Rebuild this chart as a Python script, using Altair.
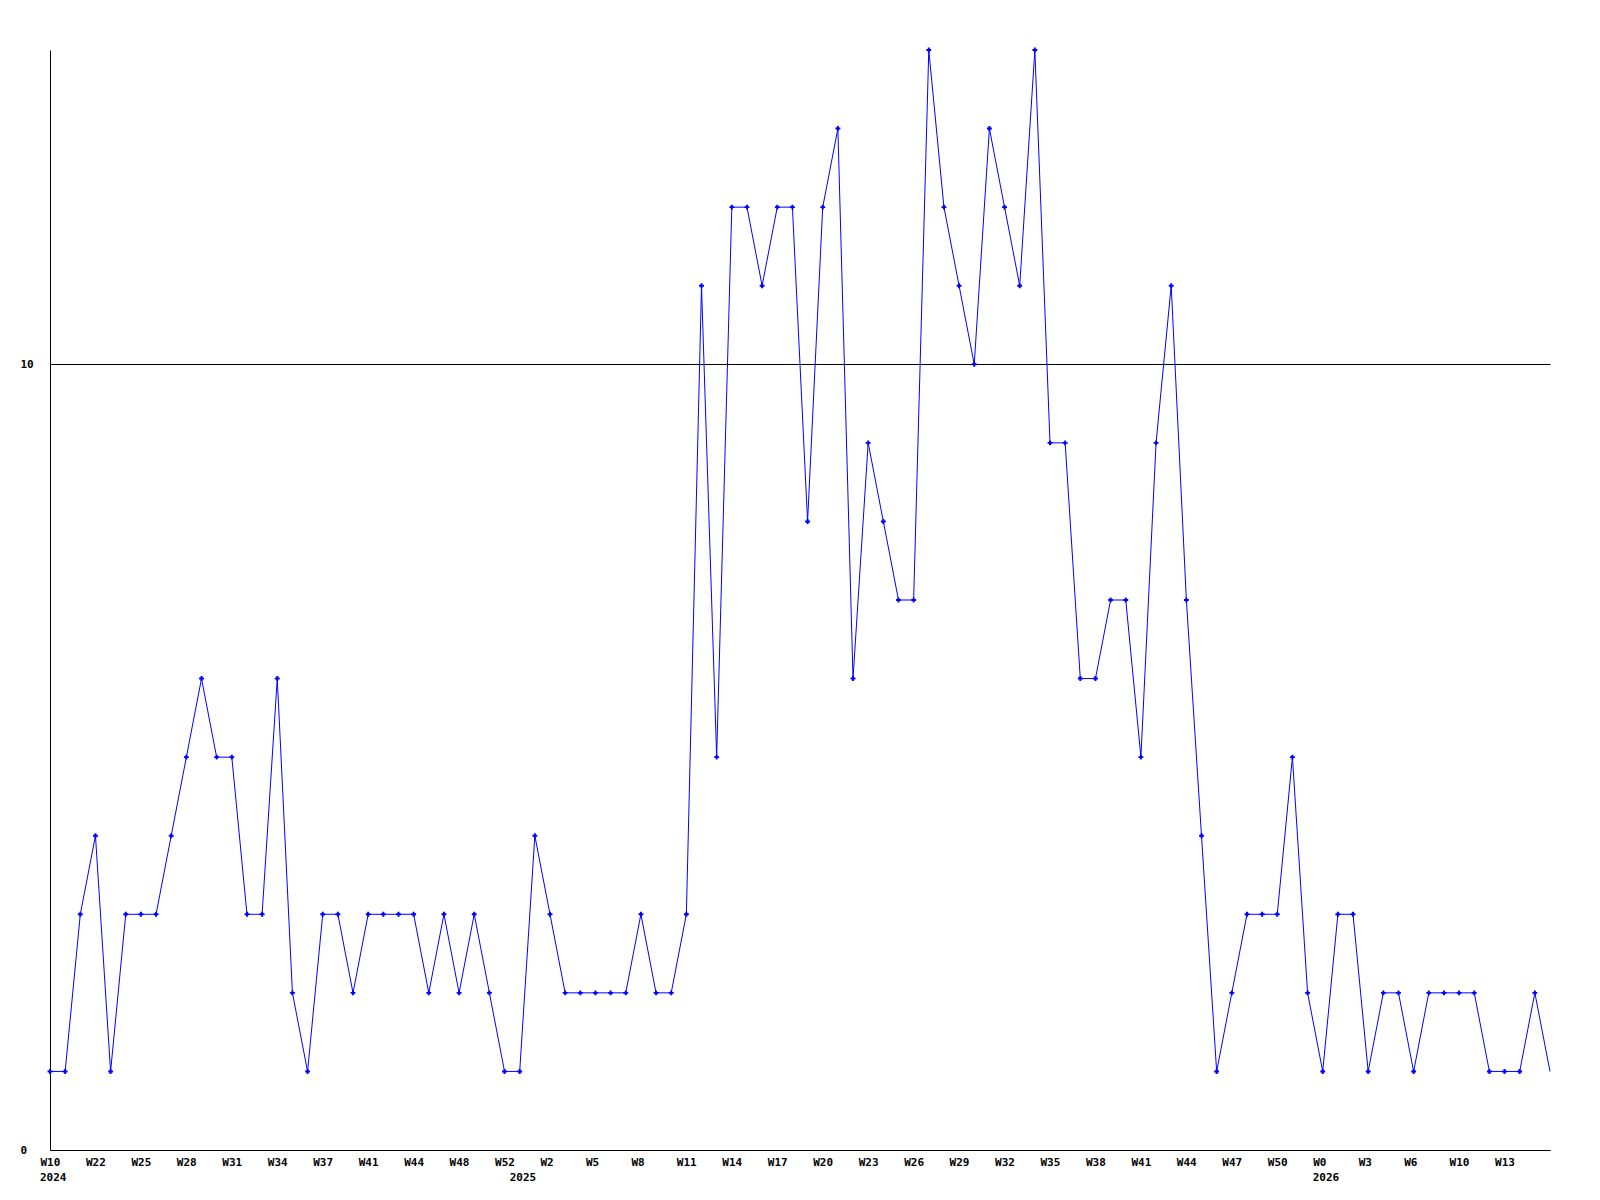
import altair as alt
import pandas as pd

# weekly counts (100 weeks)
values = [1, 1, 3, 4, 1, 3, 3, 3, 4, 5,
          6, 5, 5, 3, 3, 6, 2, 1, 3, 3,
          2, 3, 3, 3, 3, 2, 3, 2, 3, 2,
          1, 1, 4, 3, 2, 2, 2, 2, 2, 3,
          2, 2, 3, 11, 5, 12, 12, 11, 12, 12,
          8, 12, 13, 6, 9, 8, 7, 7, 14, 12,
          11, 10, 13, 12, 11, 14, 9, 9, 6, 6,
          7, 7, 5, 9, 11, 7, 4, 1, 2, 3,
          3, 3, 5, 2, 1, 3, 3, 1, 2, 2,
          1, 2, 2, 2, 2, 1, 1, 1, 2, 1]

# x tick labels (every 3rd week) as printed on the reference
week_labels = ["W10", "W22", "W25", "W28", "W31", "W34", "W37", "W41", "W44", "W48",
               "W52", "W2", "W5", "W8", "W11", "W14", "W17", "W20", "W23", "W26",
               "W29", "W32", "W35", "W38", "W41", "W44", "W47", "W50", "W0", "W3",
               "W6", "W10", "W13"]
week_label_idx = list(range(0, 3 * len(week_labels), 3))

years = ["2024", "2025", "2026"]
year_idx = [0, 31, 84]

y_ticks = [0, 10]

df = pd.DataFrame({"i": list(range(len(values))), "v": values})
ydf = pd.DataFrame({"i": year_idx, "t": years})

FONT = "DejaVu Sans Mono"
W, H = 1500, 1100
n = len(values)

label_arr = "[" + ",".join("'" + s + "'" for s in week_labels) + "]"

x_axis = alt.Axis(
    values=week_label_idx,
    labelExpr=label_arr + "[round(datum.value/3)]",
    ticks=False,
    grid=False,
    title=None,
    domainColor="black",
    domainWidth=1,
    labelFont=FONT,
    labelFontWeight="bold",
    labelFontSize=11,
    labelColor="black",
    labelAlign="left",
    labelOffset=-10,
    labelBaseline="middle",
    labelPadding=12,
    labelOverlap=False,
    labelFlush=False,
)

y_axis = alt.Axis(
    values=y_ticks,
    format="d",
    ticks=False,
    grid=True,
    gridColor="black",
    gridOpacity=1,
    gridWidth=1,
    title=None,
    domainColor="black",
    domainWidth=1,
    labelFont=FONT,
    labelFontWeight="bold",
    labelFontSize=11,
    labelColor="black",
    labelAlign="left",
    labelBaseline="middle",
    labelPadding=30,
    labelFlush=False,
)

x_scale = alt.Scale(domain=[0, n - 1], nice=False, zero=False)
y_scale = alt.Scale(domain=[0, 14], nice=False, zero=True)

base = alt.Chart(df)

line = base.mark_line(color="#0000ff", strokeWidth=1, interpolate="linear").encode(
    x=alt.X("i:Q", scale=x_scale, axis=x_axis),
    y=alt.Y("v:Q", scale=y_scale, axis=y_axis),
)

points = base.transform_filter(alt.datum.i < n - 1).mark_point(
    shape="cross", filled=True, size=24, color="#0000ff", opacity=1
).encode(
    x=alt.X("i:Q", scale=x_scale, axis=x_axis),
    y=alt.Y("v:Q", scale=y_scale, axis=y_axis),
)

year_text = alt.Chart(ydf).mark_text(
    font=FONT, fontWeight="bold", fontSize=11, color="black",
    align="left", baseline="middle", dx=-10
).encode(x=alt.X("i:Q", scale=x_scale, axis=x_axis), y=alt.value(H + 27.5), text="t:N")

chart = alt.layer(line, points, year_text).properties(
    width=W,
    height=H,
    background="white",
    autosize=alt.AutoSizeParams(type="none"),
    padding={"left": 42, "top": 42, "right": 40, "bottom": 60},
).configure_view(stroke=None, strokeWidth=0)

chart.save("out.html", embed_options={"renderer": "svg", "actions": False})
